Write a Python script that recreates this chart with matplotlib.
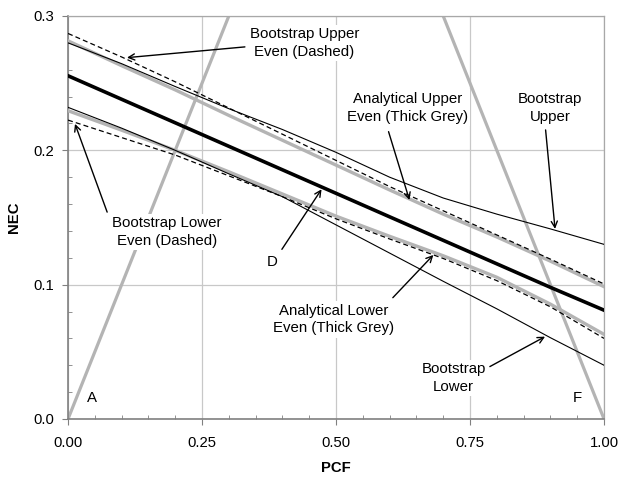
import matplotlib
matplotlib.use("Agg")
import matplotlib.pyplot as plt
from matplotlib.ticker import MultipleLocator, FormatStrFormatter

plt.rcParams['font.family'] = ['Liberation Sans', 'DejaVu Sans']

# PCF grid shared by the confidence curves
pcf = [0.0, 0.1, 0.2, 0.3, 0.4, 0.5, 0.6, 0.7, 0.8, 0.9, 1.0]

# fitted line D
nec_d = [0.2555, 0.238, 0.2205, 0.203, 0.1855, 0.168, 0.1505, 0.133, 0.1155, 0.098, 0.081]

# analytical limits (thick grey)
analytical_upper = [0.2815, 0.263, 0.245, 0.226, 0.2075, 0.189, 0.1705, 0.1525, 0.1355, 0.1175, 0.0985]
analytical_lower = [0.2295, 0.215, 0.200, 0.184, 0.1675, 0.151, 0.136, 0.1215, 0.1055, 0.0855, 0.0630]

# bootstrap limits, even (dashed)
boot_even_upper = [0.287, 0.2695, 0.251, 0.2315, 0.212, 0.1925, 0.173, 0.155, 0.137, 0.119, 0.1005]
boot_even_lower = [0.2225, 0.2095, 0.1965, 0.181, 0.1655, 0.149, 0.134, 0.1195, 0.103, 0.0835, 0.0600]

# bootstrap limits (thin black)
boot_upper = [0.280, 0.2645, 0.2475, 0.231, 0.2155, 0.1985, 0.180, 0.1645, 0.1525, 0.1415, 0.130]
boot_lower = [0.232, 0.2165, 0.200, 0.1825, 0.1655, 0.1445, 0.1235, 0.1025, 0.082, 0.0605, 0.040]

# boundary lines A and F
a_pcf = [0.0, 0.3]
a_nec = [0.0, 0.3]
f_pcf = [0.7, 1.0]
f_nec = [0.3, 0.0]

grey = '#b4b4b4'

fig = plt.figure(figsize=(6.19, 4.79), dpi=100)
ax = fig.add_axes([0.1099, 0.1253, 0.8659, 0.8413])

ax.plot(a_pcf, a_nec, color=grey, lw=2.3, zorder=2, solid_capstyle='butt')
ax.plot(f_pcf, f_nec, color=grey, lw=2.3, zorder=2, solid_capstyle='butt')

ax.plot(pcf, analytical_upper, color=grey, lw=2.4, zorder=3)
ax.plot(pcf, analytical_lower, color=grey, lw=2.4, zorder=3)
ax.plot(pcf, boot_upper, color='black', lw=0.8, zorder=4)
ax.plot(pcf, boot_lower, color='black', lw=0.8, zorder=4)
ax.plot(pcf, boot_even_upper, color='black', lw=0.9, dashes=(4, 2.5), zorder=4)
ax.plot(pcf, boot_even_lower, color='black', lw=0.9, dashes=(4, 2.5), zorder=4)
ax.plot(pcf, nec_d, color='black', lw=2.6, zorder=5)

ax.set_xlim(0, 1)
ax.set_ylim(0, 0.3)
ax.xaxis.set_major_locator(MultipleLocator(0.25))
ax.xaxis.set_minor_locator(MultipleLocator(0.05))
ax.yaxis.set_major_locator(MultipleLocator(0.1))
ax.yaxis.set_minor_locator(MultipleLocator(0.02))
ax.xaxis.set_major_formatter(FormatStrFormatter('%.2f'))
ax.yaxis.set_major_formatter(FormatStrFormatter('%.1f'))

ax.set_axisbelow(True)
ax.grid(True, which='major', color='#c8c8c8', lw=0.9)
ax.tick_params(which='major', direction='out', length=4, color='#808080',
               labelsize=10.7, labelcolor='black')
ax.tick_params(axis='x', which='major', pad=8)
ax.tick_params(axis='y', which='major', pad=6)
ax.tick_params(which='minor', direction='in', length=3, color='#808080')
for side in ['left', 'bottom']:
    ax.spines[side].set_color('#808080')
    ax.spines[side].set_linewidth(1.2)
for side in ['top', 'right']:
    ax.spines[side].set_color('#a8a8a8')
    ax.spines[side].set_linewidth(0.9)

ax.set_xlabel('PCF', fontsize=10.7, fontweight='bold', labelpad=8)
ax.set_ylabel('NEC', fontsize=10.7, fontweight='bold', labelpad=9)

box = dict(boxstyle='square,pad=0.15', fc='white', ec='none')
arrow = dict(arrowstyle='->', color='black', lw=1.0, mutation_scale=11, shrinkA=0, shrinkB=0)

labels = [
    ('Bootstrap Upper\nEven (Dashed)', (0.441, 0.280), (0.330, 0.277), (0.110, 0.269)),
    ('Bootstrap Lower\nEven (Dashed)', (0.185, 0.139), (0.073, 0.154), (0.013, 0.2197)),
    ('Analytical Upper\nEven (Thick Grey)', (0.633, 0.2318), (0.598, 0.2139), (0.637, 0.163)),
    ('Bootstrap\nUpper', (0.899, 0.2318), (0.891, 0.2152), (0.9086, 0.1415)),
    ('Analytical Lower\nEven (Thick Grey)', (0.496, 0.0741), (0.606, 0.0903), (0.6816, 0.1221)),
    ('Bootstrap\nLower', (0.7196, 0.0303), (0.787, 0.039), (0.890, 0.0613)),
    ('D', (0.380, 0.117), (0.399, 0.1263), (0.473, 0.171)),
]
for text, pos, start, tip in labels:
    ax.text(pos[0], pos[1], text, ha='center', va='center', fontsize=10.8,
            linespacing=1.35, bbox=box, zorder=6)
    ax.annotate('', xy=tip, xytext=start, arrowprops=arrow, zorder=7)

ax.text(0.044, 0.0154, 'A', ha='center', va='center', fontsize=10.8, zorder=6)
ax.text(0.9506, 0.0154, 'F', ha='center', va='center', fontsize=10.8, zorder=6)

fig.savefig('out.png', dpi=100)
